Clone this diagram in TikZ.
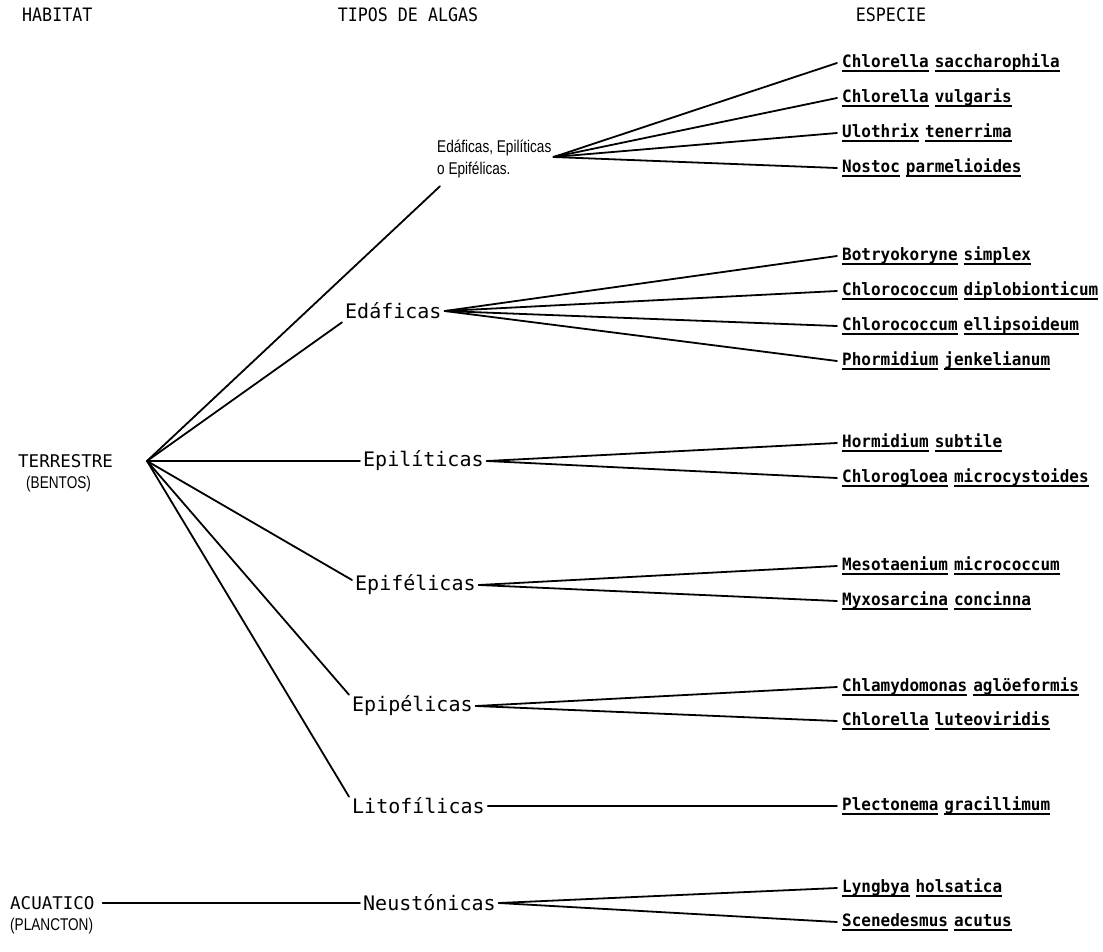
\documentclass[tikz,border=0pt]{standalone}
\usepackage{fontspec}
\newfontfamily\monoface{DejaVu Sans Mono}
\newfontfamily\narrowmono{DejaVu Sans Mono}[FakeStretch=0.9]
\newfontfamily\sppface{DejaVu Sans Mono}[FakeStretch=0.94]
\newfontfamily\narrowsans{Liberation Sans}[FakeStretch=0.8]

% typeface sizes used in the chart
\newcommand\grpfont{\monoface\fontsize{20pt}{24pt}\selectfont}
\newcommand\habfont{\monoface\fontsize{17.5pt}{20pt}\selectfont}
\newcommand\sppfont{\sppface\bfseries\fontsize{17pt}{20pt}\selectfont}
\newcommand\hdrfont{\narrowmono\fontsize{18.5pt}{21pt}\selectfont}
\newcommand\smlfont{\narrowsans\fontsize{17pt}{22pt}\selectfont}
% one underlined word, and a genus/species pair
\newcommand\ulw[1]{\setbox0\hbox{#1}\rlap{\rule[-4.5pt]{\wd0}{1.7pt}}\box0\relax}
\newcommand\taxon[2]{\ulw{#1}\hspace{6pt}\ulw{#2}}

\tikzset{
  hdr/.style={font=\hdrfont, inner sep=0pt},
  grp/.style={anchor=west, font=\grpfont, inner sep=3pt},
  spp/.style={anchor=west, font=\sppfont, inner xsep=5pt, inner ysep=0pt},
  hab/.style={anchor=west, font=\habfont, inner sep=0pt},
  sub/.style={anchor=west, font=\smlfont, inner sep=0pt},
  link/.style={line width=1.8pt, line cap=round, line join=round}
}

\begin{document}
\begin{tikzpicture}[x=1pt, y=-1pt]
\useasboundingbox (0,0) rectangle (1103,951);

% column headings
\node[hdr, anchor=west] (hHab) at (22,15) {HABITAT};
\node[hdr] (hTip) at (408,15) {TIPOS DE ALGAS};
\node[hdr] (hEsp) at (891,15) {ESPECIE};

% habitats
\node[hab] (ter) at (18,461) {TERRESTRE};
\node[sub] (ben) at (26,484) {(BENTOS)};
\node[hab] (acu) at (10,903) {ACUATICO};
\node[sub] (pla) at (10,926) {(PLANCTON)};
\coordinate (jt) at (147,461);

% types of algae
\node[sub, align=left, inner sep=2pt] (g1) at (435,159) {Edáficas, Epilíticas\\o Epifélicas.};
\node[grp] (g2) at (342,311) {Edáficas};
\node[grp] (g3) at (360,461) {Epilíticas};
\node[grp] (g4) at (352,585) {Epifélicas};
\node[grp] (g5) at (349,706) {Epipélicas};
\node[grp] (g6) at (349,806) {Litofílicas};
\node[grp] (g7) at (360,903) {Neustónicas};
\coordinate (f1) at ([xshift=0pt, yshift=2pt]g1.east);

% species
\node[spp] (s1)  at (837,63)  {\taxon{Chlorella}{saccharophila}};
\node[spp] (s2)  at (837,98)  {\taxon{Chlorella}{vulgaris}};
\node[spp] (s3)  at (837,133) {\taxon{Ulothrix}{tenerrima}};
\node[spp] (s4)  at (837,168) {\taxon{Nostoc}{parmelioides}};
\node[spp] (s5)  at (837,256) {\taxon{Botryokoryne}{simplex}};
\node[spp] (s6)  at (837,291) {\taxon{Chlorococcum}{diplobionticum}};
\node[spp] (s7)  at (837,326) {\taxon{Chlorococcum}{ellipsoideum}};
\node[spp] (s8)  at (837,361) {\taxon{Phormidium}{jenkelianum}};
\node[spp] (s9)  at (837,443) {\taxon{Hormidium}{subtile}};
\node[spp] (s10) at (837,478) {\taxon{Chlorogloea}{microcystoides}};
\node[spp] (s11) at (837,566) {\taxon{Mesotaenium}{micrococcum}};
\node[spp] (s12) at (837,601) {\taxon{Myxosarcina}{concinna}};
\node[spp] (s13) at (837,687) {\taxon{Chlamydomonas}{aglöeformis}};
\node[spp] (s14) at (837,721) {\taxon{Chlorella}{luteoviridis}};
\node[spp] (s15) at (837,806) {\taxon{Plectonema}{gracillimum}};
\node[spp] (s16) at (837,888) {\taxon{Lyngbya}{holsatica}};
\node[spp] (s17) at (837,922) {\taxon{Scenedesmus}{acutus}};

% habitat to types
\draw[link] (jt) -- ([xshift=5pt, yshift=-6pt]g1.south west);
\draw[link] (jt) -- (g2.south west);
\draw[link] (jt) -- (g3.west);
\draw[link] (jt) -- ([yshift=5pt]g4.west);
\draw[link] (jt) -- ([yshift=-2pt]g5.north west);
\draw[link] (jt) -- ([yshift=-2pt]g6.north west);
\draw[link] ([xshift=8pt]acu.east) -- (g7.west);

% types to species
\foreach \s in {s1,s2,s3,s4} \draw[link] (f1) -- (\s.west);
\foreach \s in {s5,s6,s7,s8} \draw[link] (g2.east) -- (\s.west);
\foreach \s in {s9,s10} \draw[link] (g3.east) -- (\s.west);
\foreach \s in {s11,s12} \draw[link] (g4.east) -- (\s.west);
\foreach \s in {s13,s14} \draw[link] (g5.east) -- (\s.west);
\draw[link] (g6.east) -- (s15.west);
\foreach \s in {s16,s17} \draw[link] (g7.east) -- (\s.west);
\end{tikzpicture}
\end{document}
